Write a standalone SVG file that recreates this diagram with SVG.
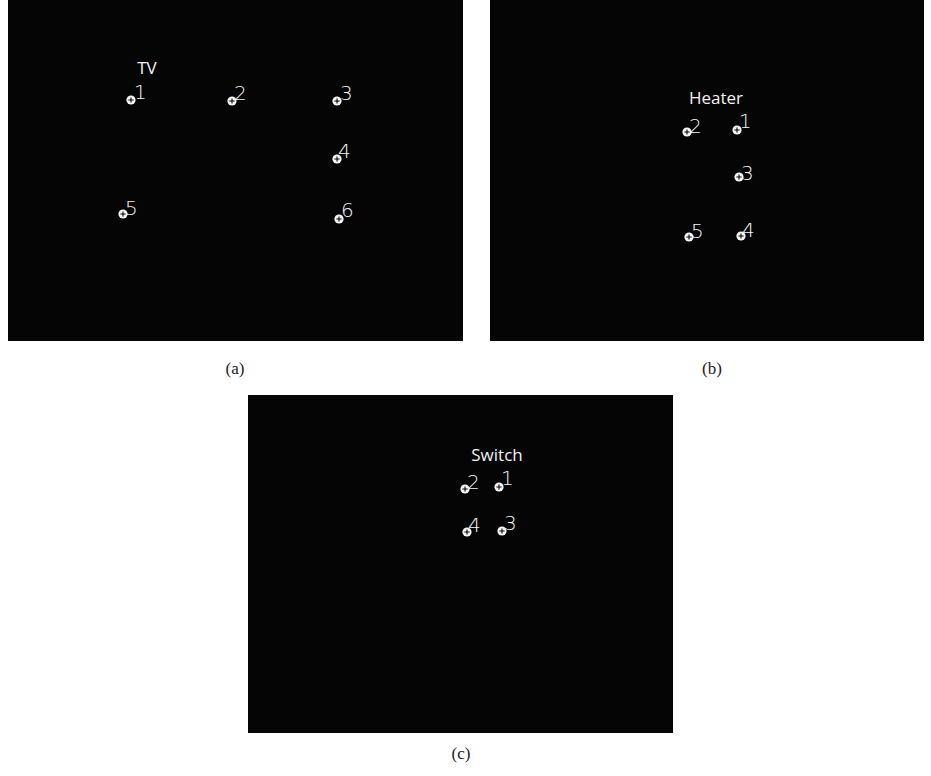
<svg xmlns="http://www.w3.org/2000/svg" width="931" height="776" viewBox="0 0 931 776">
<style>
.bg{fill:#050505}
.title{font-family:"Open Sans","Liberation Sans",sans-serif;font-size:17px;fill:#f2f2f2;text-anchor:middle}
.num{font-family:"DejaVu Sans","Liberation Sans",sans-serif;font-weight:200;font-size:20px;fill:#f4f4f4}
.cap{font-family:"Liberation Serif",serif;font-size:17px;fill:#222;text-anchor:middle}
</style>
<defs>
<g id="mk">
<circle r="4.6" fill="#f6f6f6"/>
<path d="M-2.6 0H2.6M0 -2.6V2.6" stroke="#050505" stroke-width="1.1"/>
</g>
</defs>
<rect width="931" height="776" fill="#fff"/>
<g id="panel-a">
<rect class="bg" x="8" y="0" width="455" height="341"/>
<text class="title" x="147" y="74">TV</text>
<g id="a1"><use href="#mk" x="131" y="100"/><text class="num" x="134" y="99">1</text></g>
<g id="a2"><use href="#mk" x="232" y="101"/><text class="num" x="234" y="100">2</text></g>
<g id="a3"><use href="#mk" x="337" y="101"/><text class="num" x="340" y="100">3</text></g>
<g id="a4"><use href="#mk" x="337" y="159"/><text class="num" x="338" y="158">4</text></g>
<g id="a5"><use href="#mk" x="123" y="214"/><text class="num" x="125" y="215">5</text></g>
<g id="a6"><use href="#mk" x="339" y="219"/><text class="num" x="341" y="217">6</text></g>
</g>
<g id="panel-b">
<rect class="bg" x="490" y="0" width="434" height="341"/>
<text class="title" x="716" y="104">Heater</text>
<g id="b1"><use href="#mk" x="737" y="130"/><text class="num" x="739" y="128">1</text></g>
<g id="b2"><use href="#mk" x="687" y="132"/><text class="num" x="689" y="133">2</text></g>
<g id="b3"><use href="#mk" x="739" y="177"/><text class="num" x="741" y="180">3</text></g>
<g id="b4"><use href="#mk" x="741" y="236"/><text class="num" x="742" y="237">4</text></g>
<g id="b5"><use href="#mk" x="689" y="237"/><text class="num" x="691" y="238">5</text></g>
</g>
<g id="panel-c">
<rect class="bg" x="248" y="395" width="425" height="338"/>
<text class="title" x="497" y="461">Switch</text>
<g id="c1"><use href="#mk" x="499" y="487"/><text class="num" x="501" y="485">1</text></g>
<g id="c2"><use href="#mk" x="465" y="489"/><text class="num" x="467" y="489">2</text></g>
<g id="c3"><use href="#mk" x="502" y="531"/><text class="num" x="504" y="530">3</text></g>
<g id="c4"><use href="#mk" x="467" y="532"/><text class="num" x="468" y="532">4</text></g>
</g>
<g id="connectors"></g>
<text class="cap" x="235" y="374">(a)</text>
<text class="cap" x="712" y="374">(b)</text>
<text class="cap" x="461" y="759">(c)</text>
</svg>
